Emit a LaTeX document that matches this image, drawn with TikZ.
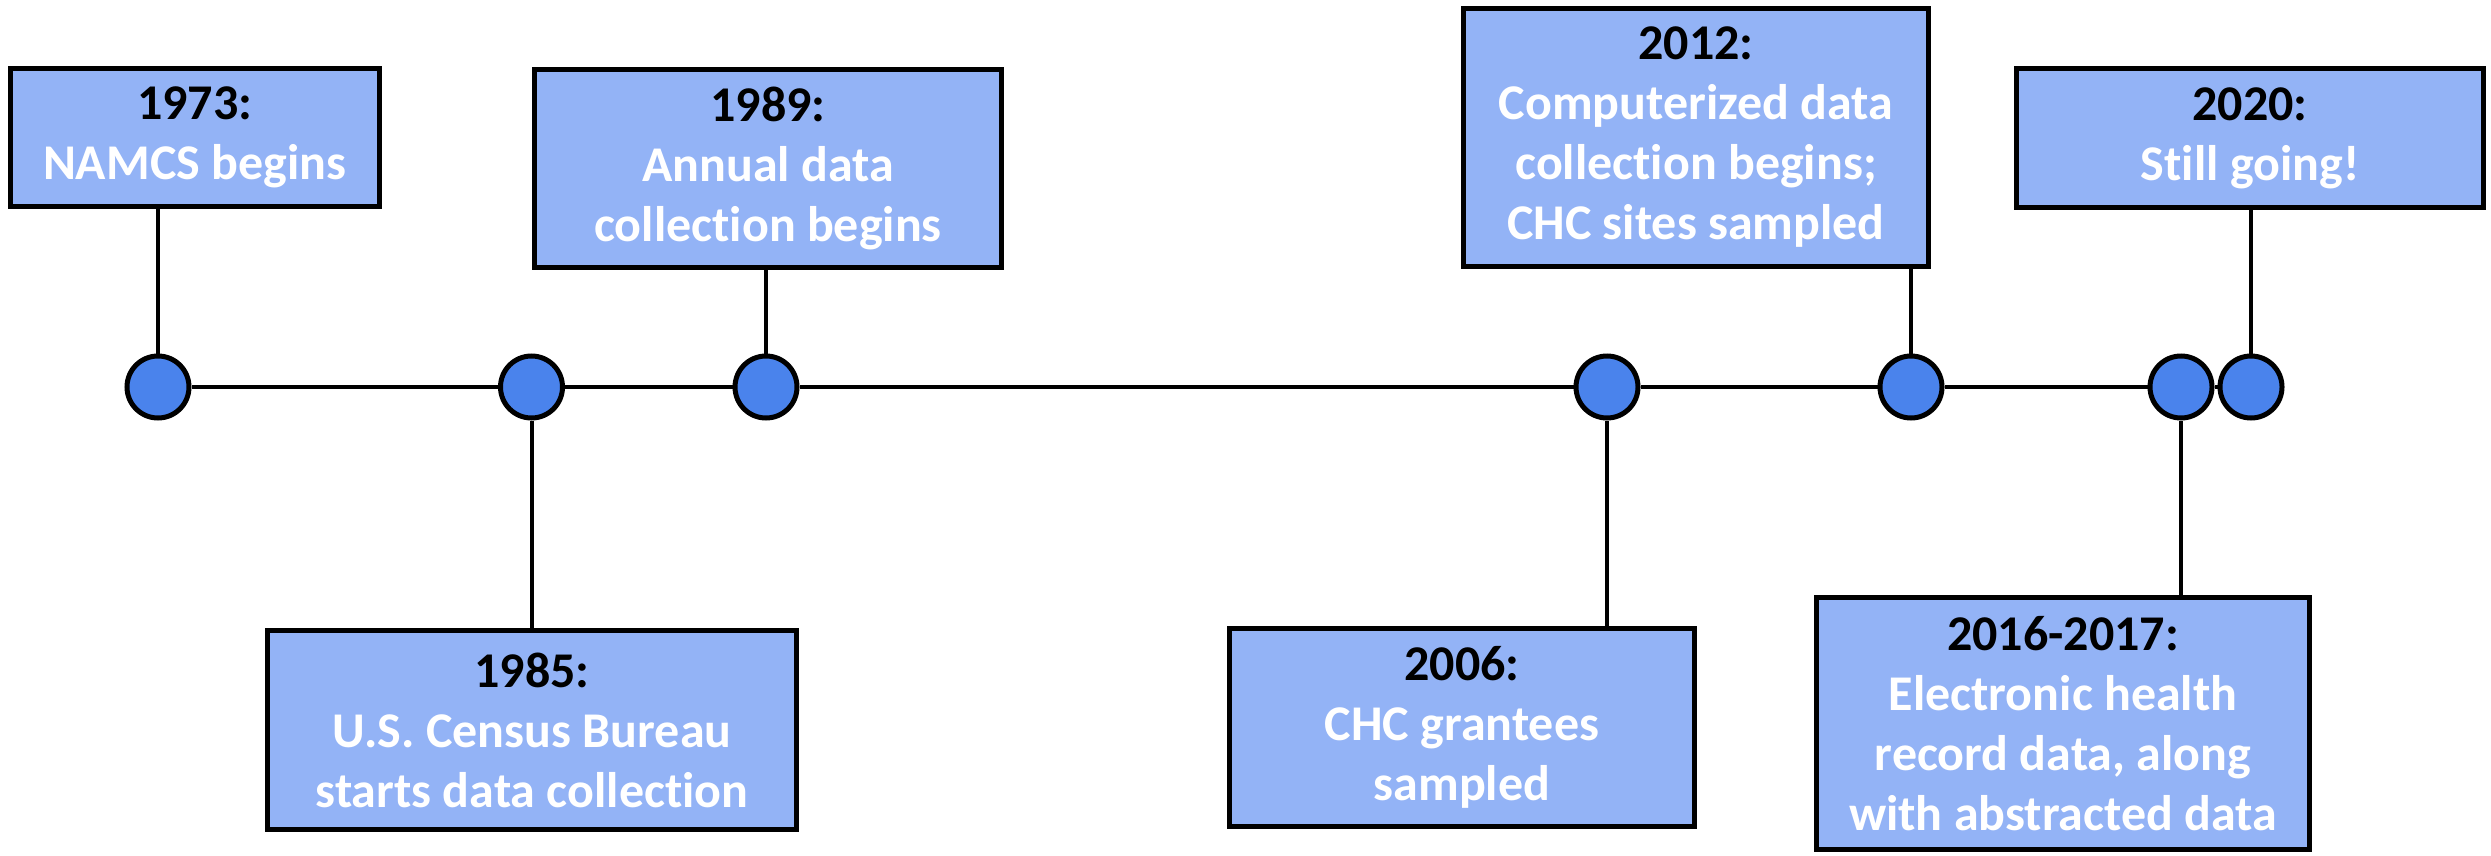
\documentclass[tikz,border=0pt]{standalone}
\usepackage{fontspec}
\setmainfont[Ligatures=NoCommon]{Carlito}
\definecolor{boxfill}{RGB}{147,179,246}
\definecolor{dotfill}{RGB}{74,131,236}
\begin{document}
\begin{tikzpicture}[x=1pt,y=-1pt,
  evbox/.style={draw=black, line width=5pt, fill=boxfill, inner sep=0pt, align=center,
    font=\fontsize{50}{60}\selectfont\bfseries, text=white},
  evdot/.style={circle, draw=black, line width=5pt, fill=dotfill, minimum size=62pt, inner sep=0pt},
  tl/.style={line width=4pt, draw=black}
]
\useasboundingbox (0,0) rectangle (2491,856);

% boxes
\node[evbox, minimum width=369pt, minimum height=138pt] (b1973) at (194.6,137.5)
  {\textcolor{black}{1973:}\\NAMCS begins};
\node[evbox, minimum width=467pt, minimum height=198pt] (b1989) at (768,168.5)
  {\textcolor{black}{1989:}\\Annual data\\collection begins};
\node[evbox, minimum width=529pt, minimum height=199pt] (b1985) at (532,730)
  {\textcolor{black}{1985:}\\U.S. Census Bureau\\starts data collection};
\node[evbox, minimum width=465pt, minimum height=198pt] (b2006) at (1462,727.5)
  {\textcolor{black}{2006:}\\CHC grantees\\sampled};
\node[evbox, minimum width=465pt, minimum height=258pt] (b2012) at (1696,137.5)
  {\textcolor{black}{2012:}\\Computerized data\\collection begins;\\CHC sites sampled};
\node[evbox, minimum width=467pt, minimum height=139pt] (b2020) at (2250,138)
  {\textcolor{black}{2020:}\\Still going!};
\node[evbox, minimum width=493pt, minimum height=252pt] (b2016) at (2063,723.5)
  {\textcolor{black}{2016-2017:}\\Electronic health\\record data, along\\with abstracted data};

% dots
\node[evdot] (c1973) at (158,387) {};
\node[evdot] (c1985) at (531.5,387) {};
\node[evdot] (c1989) at (766,387) {};
\node[evdot] (c2006) at (1607,387) {};
\node[evdot] (c2012) at (1911,387) {};
\node[evdot] (c2016) at (2181,387) {};
\node[evdot] (c2020) at (2251,387) {};

% timeline
\draw[tl] (c1973) -- (c1985);
\draw[tl] (c1985) -- (c1989);
\draw[tl] (c1989) -- (c2006);
\draw[tl] (c2006) -- (c2012);
\draw[tl] (c2012) -- (c2016);
\draw[tl] (c2016) -- (c2020);

% connectors
\draw[tl] (c1973) -- (c1973 |- b1973.south);
\draw[tl] (c1989) -- (c1989 |- b1989.south);
\draw[tl] (c1985) -- (c1985 |- b1985.north);
\draw[tl] (c2006) -- (c2006 |- b2006.north);
\draw[tl] (c2012) -- (c2012 |- b2012.south);
\draw[tl] (c2020) -- (c2020 |- b2020.south);
\draw[tl] (c2016) -- (c2016 |- b2016.north);
\end{tikzpicture}
\end{document}
